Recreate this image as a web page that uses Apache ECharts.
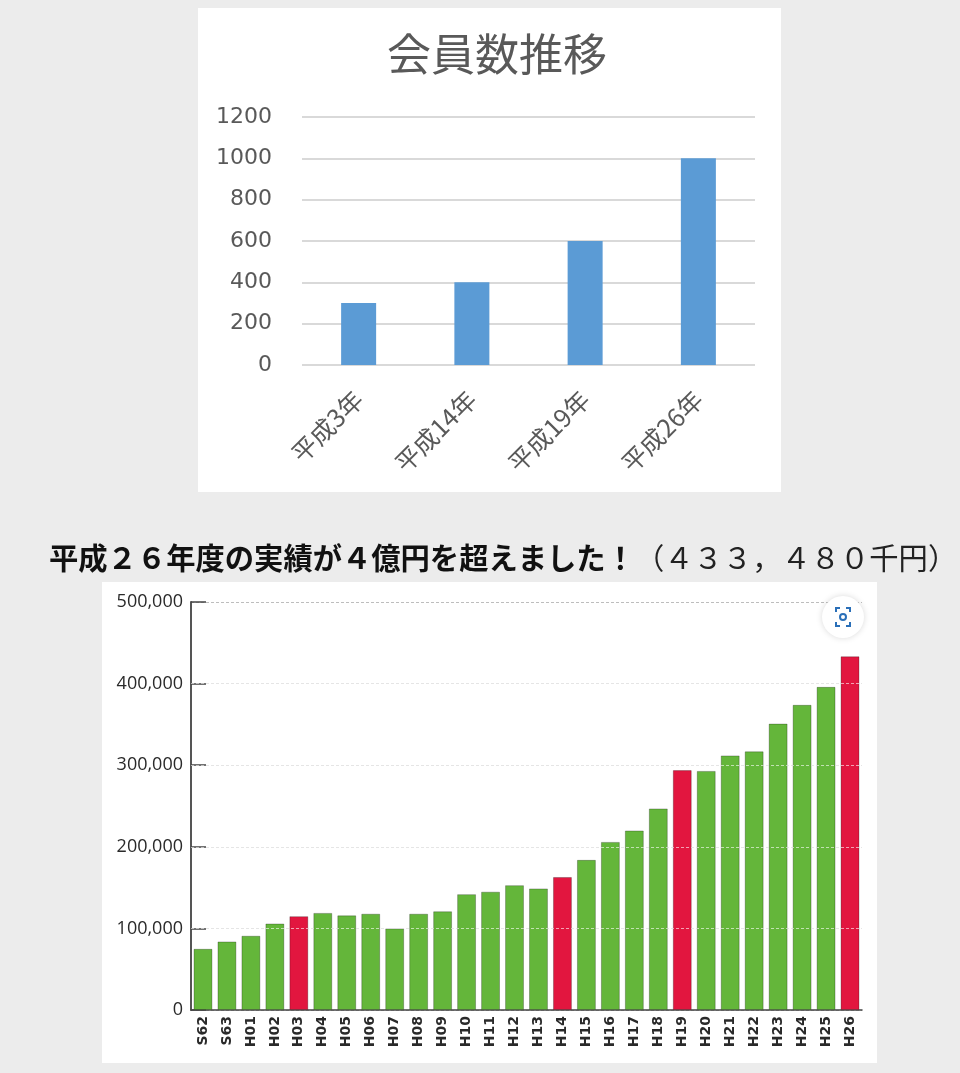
<!DOCTYPE html>
<html>
<head>
<meta charset="utf-8">
<script src="https://cdn.jsdelivr.net/npm/echarts@6/dist/echarts.min.js"></script>
<style>
  html, body { margin: 0; padding: 0; background: #ececec; }
  #main { width: 960px; height: 1073px; }
</style>
</head>
<body>
<div id="main"></div>
<script>
// top chart: 会員数推移
var memberYears = ['平成3年', '平成14年', '平成19年', '平成26年'];
var memberCounts = [300, 400, 600, 1000];

// bottom chart: 実績 (千円)
var fiscalYears = ['S62', 'S63', 'H01', 'H02', 'H03', 'H04', 'H05', 'H06', 'H07', 'H08',
	'H09', 'H10', 'H11', 'H12', 'H13', 'H14', 'H15', 'H16', 'H17', 'H18',
	'H19', 'H20', 'H21', 'H22', 'H23', 'H24', 'H25', 'H26'];
var results = [75000, 84000, 91000, 106000, 115000, 119000, 116000, 118000, 100000, 118000,
	121000, 142000, 145000, 153000, 149000, 163000, 184000, 206000, 220000, 247000,
	294000, 293000, 312000, 317000, 351000, 374000, 396000, 433480];
var highlightYears = ['H03', 'H14', 'H19', 'H26'];
var resultTicks = [100000, 200000, 300000, 400000];

function initChart(){
	var chart = echarts.init(document.getElementById('main'));
	var jp = '"Noto Sans CJK JP", "Noto Sans", sans-serif';
	var blue = '#2a6fb8';

	var barData = [];
	for (var i = 0; i < results.length; i++) {
		var red = highlightYears.indexOf(fiscalYears[i]) >= 0;
		barData.push({
			value: results[i],
			itemStyle: { color: red ? '#e2163f' : '#64b63a' }
		});
	}
	// white dashed lines over the bars, like the original
	var overlay = [];
	for (var j = 0; j < resultTicks.length; j++) {
		overlay.push({ yAxis: resultTicks[j] });
	}

	var option = {
		animation: false,
		backgroundColor: '#ececec',
		title: [
			{
				text: '会員数推移',
				left: 492, top: 27,
				textAlign: 'center',
				textStyle: { fontFamily: jp, fontSize: 44, fontWeight: 'normal', color: '#595959' }
			},
			{
				text: '{b|平成２６年度の実績が４億円を超えました！}{n|（４３３，４８０千円）}',
				left: 44, top: 538,
				textStyle: {
					rich: {
						b: { fontFamily: jp, fontSize: 29.3, fontWeight: 'bold', color: '#111' },
						n: { fontFamily: jp, fontSize: 29.3, fontWeight: 'normal', color: '#222' }
					}
				}
			}
		],
		graphic: [
			{ type: 'rect', z: -10, shape: { x: 198, y: 8, width: 583, height: 484 }, style: { fill: '#fff' } },
			{ type: 'rect', z: -10, shape: { x: 102, y: 582, width: 775, height: 481 }, style: { fill: '#fff' } },
			{ type: 'circle', z: 10, shape: { cx: 843, cy: 617, r: 21 },
				style: { fill: '#fff', shadowBlur: 6, shadowColor: 'rgba(0,0,0,0.15)' } },
			{ type: 'circle', z: 11, shape: { cx: 843, cy: 617, r: 3 },
				style: { fill: 'none', stroke: blue, lineWidth: 2 } },
			{ type: 'polyline', z: 11, shape: { points: [[836, 612], [836, 608], [840, 608]] },
				style: { fill: 'none', stroke: blue, lineWidth: 2 } },
			{ type: 'polyline', z: 11, shape: { points: [[846, 608], [850, 608], [850, 612]] },
				style: { fill: 'none', stroke: blue, lineWidth: 2 } },
			{ type: 'polyline', z: 11, shape: { points: [[836, 622], [836, 626], [840, 626]] },
				style: { fill: 'none', stroke: blue, lineWidth: 2 } },
			{ type: 'polyline', z: 11, shape: { points: [[846, 626], [850, 626], [850, 622]] },
				style: { fill: 'none', stroke: blue, lineWidth: 2 } }
		],
		grid: [
			{ left: 302, right: 205, top: 117, bottom: 708 },
			{ left: 191, right: 98, top: 602, bottom: 63 }
		],
		xAxis: [
			{
				type: 'category', gridIndex: 0, data: memberYears,
				axisLine: { show: false },
				axisTick: { show: false },
				axisLabel: { rotate: 45, margin: 30, fontFamily: jp, fontSize: 25, color: '#595959' }
			},
			{
				type: 'category', gridIndex: 1, data: fiscalYears,
				axisLine: { lineStyle: { color: '#444', width: 1.5 } },
				axisTick: { inside: true, length: 8, lineStyle: { color: '#444' } },
				axisLabel: { rotate: 90, margin: 6, interval: 0, fontFamily: '"DejaVu Sans", sans-serif',
					fontSize: 14, fontWeight: 'bold', color: '#2a2a2a' }
			}
		],
		yAxis: [
			{
				type: 'value', gridIndex: 0, min: 0, max: 1200, interval: 200,
				axisLine: { show: false },
				axisTick: { show: false },
				axisLabel: { margin: 30, fontFamily: '"DejaVu Sans", sans-serif', fontSize: 22, color: '#595959',
					formatter: function(v){ return String(v); } },
				splitLine: { lineStyle: { color: '#d9d9d9', width: 2 } }
			},
			{
				type: 'value', gridIndex: 1, min: 0, max: 500000, interval: 100000,
				axisLine: { show: true, lineStyle: { color: '#555', width: 2 } },
				axisTick: { show: true, inside: true, length: 15, lineStyle: { color: '#444', width: 1.5 } },
				axisLabel: {
					margin: 8, fontFamily: '"Open Sans", sans-serif', fontSize: 18, color: '#2a2a2a',
					formatter: function(v){ return v.toLocaleString('en-US'); }
				},
				splitLine: { lineStyle: { color: '#bdbdbd', type: [3, 2] } }
			}
		],
		series: [
			{
				type: 'bar', xAxisIndex: 0, yAxisIndex: 0,
				data: memberCounts, barWidth: 35,
				itemStyle: { color: '#5b9bd5' }
			},
			{
				type: 'bar', xAxisIndex: 1, yAxisIndex: 1,
				data: barData, barCategoryGap: '21%',
				itemStyle: { borderColor: 'rgba(0,0,0,0.25)', borderWidth: 1 },
				markLine: {
					silent: true, symbol: 'none', label: { show: false },
					lineStyle: { color: 'rgba(255,255,255,0.6)', type: [3, 2], width: 1 },
					data: overlay
				}
			}
		]
	};
	chart.setOption(option);
}
initChart();
</script>
</body>
</html>
